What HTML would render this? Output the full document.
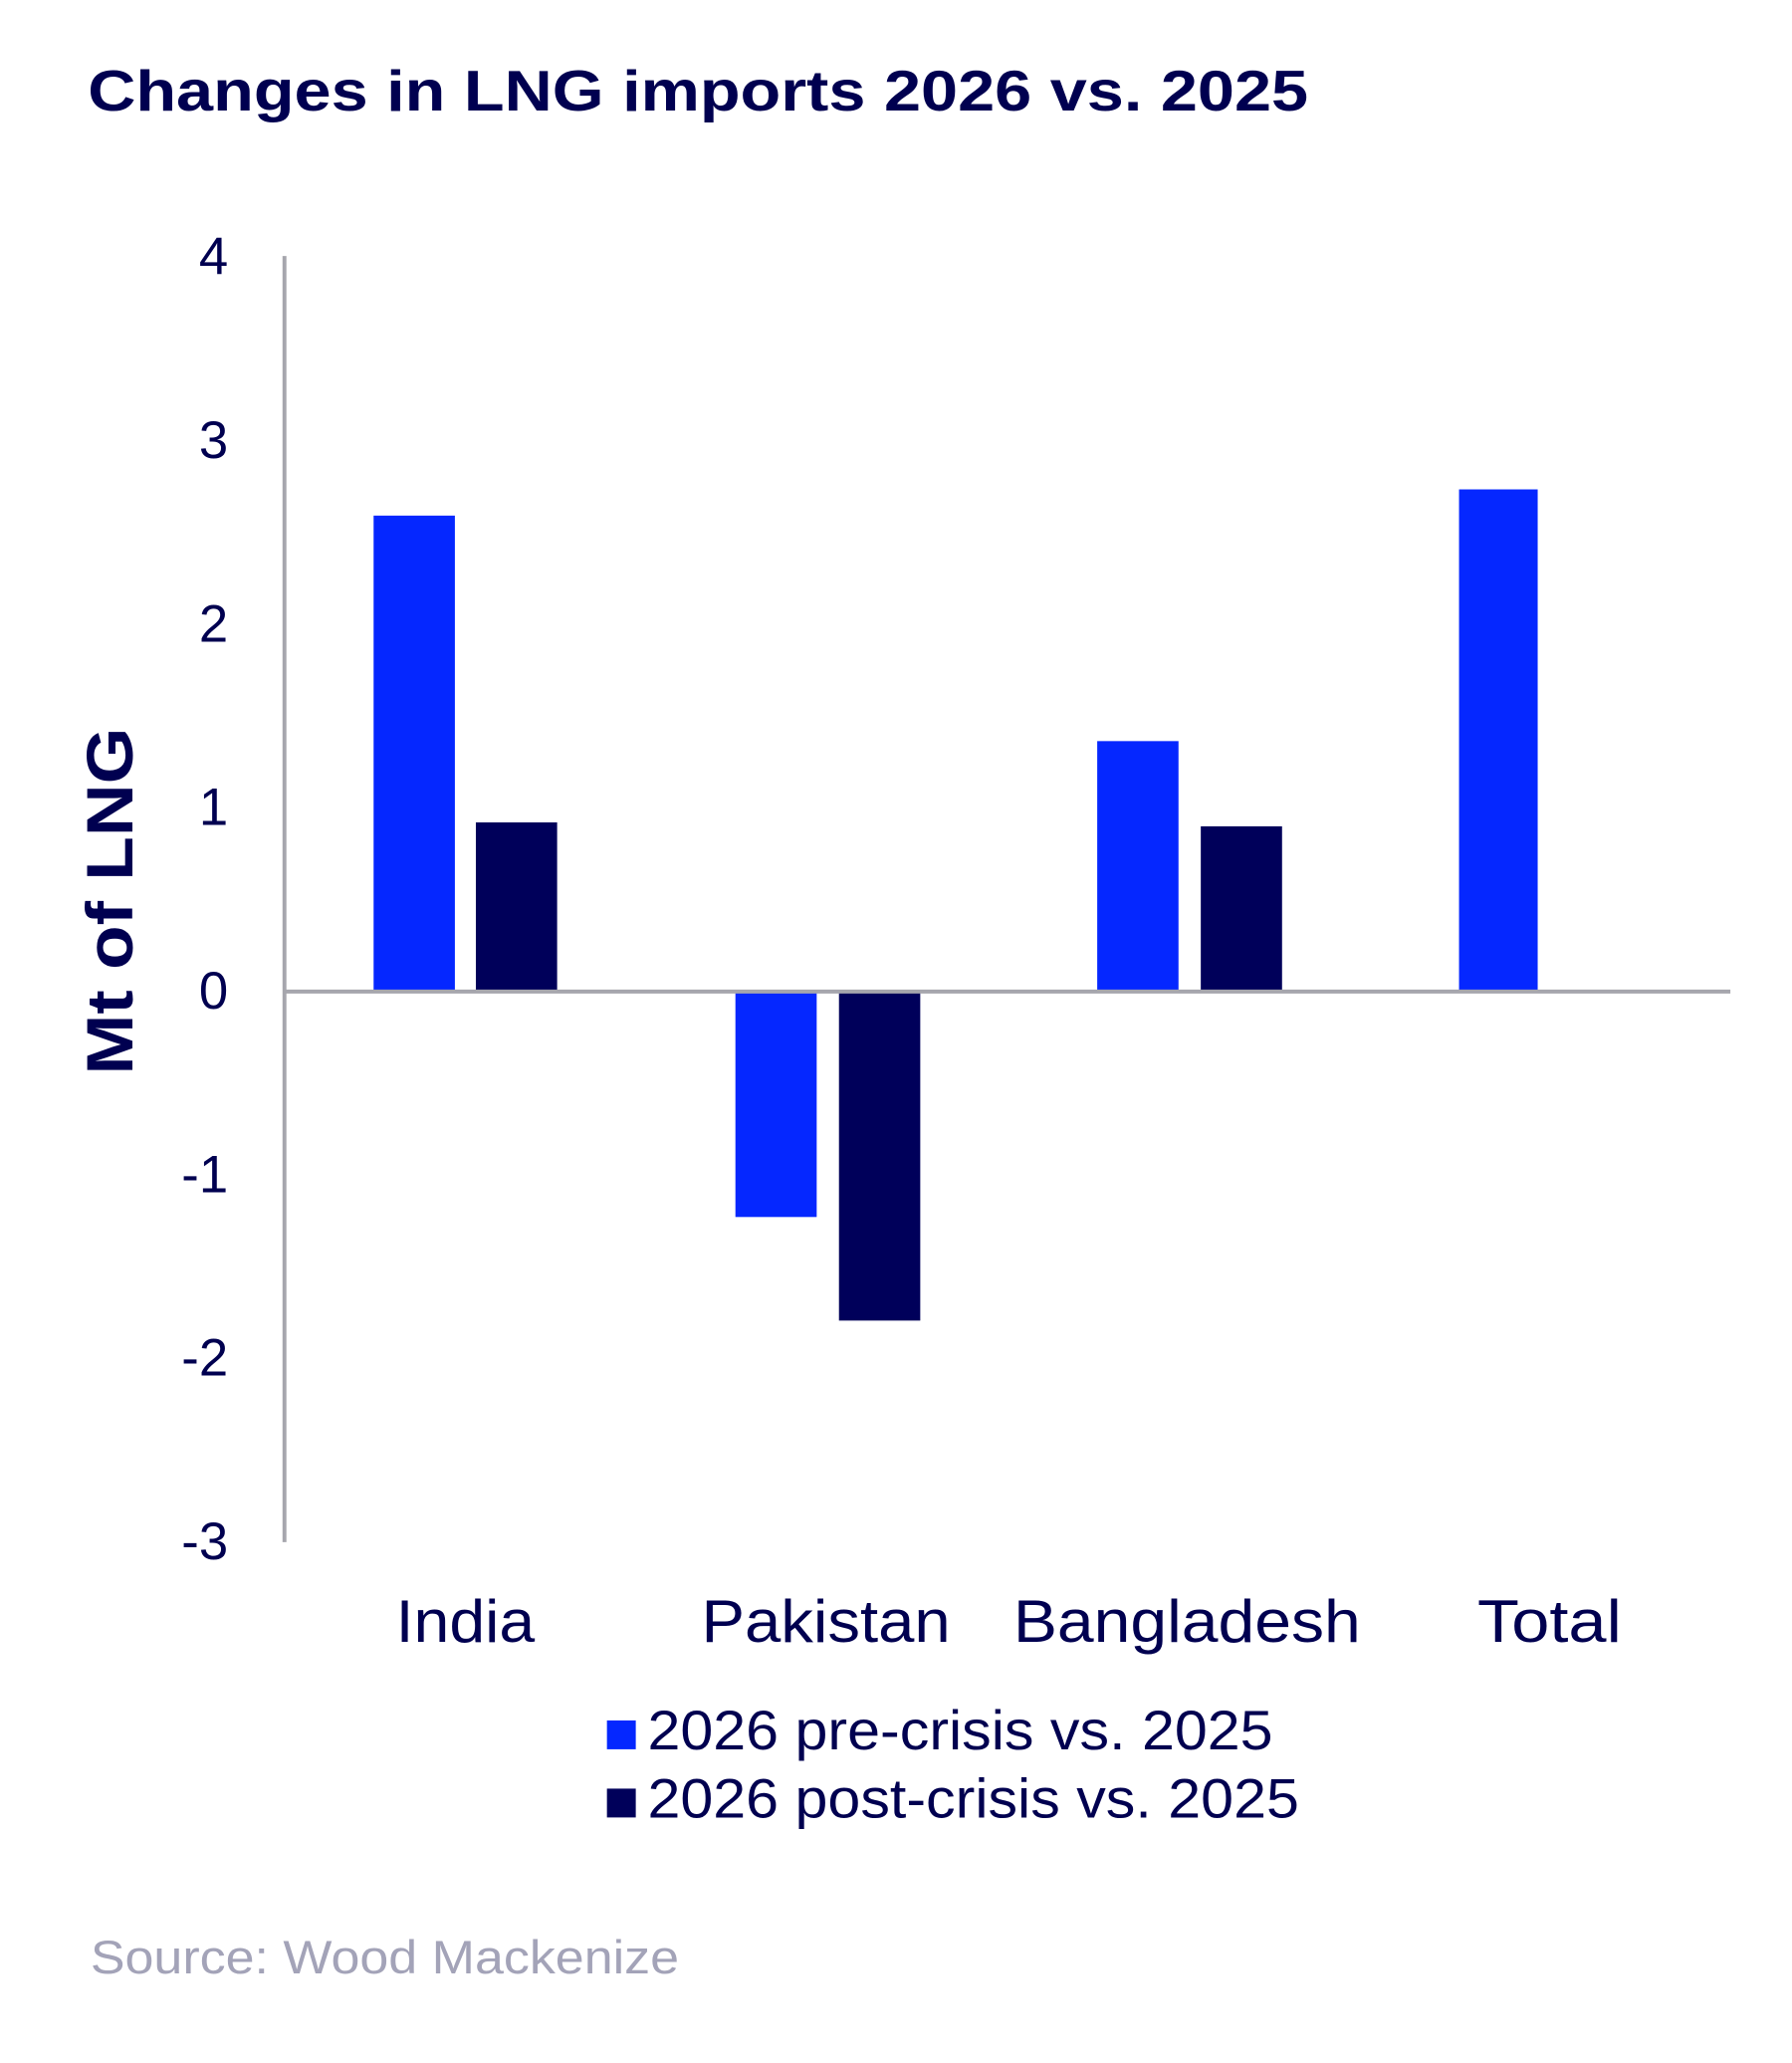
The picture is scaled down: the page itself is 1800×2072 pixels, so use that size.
<!DOCTYPE html>
<html><head><meta charset="utf-8"><style>
html,body{margin:0;padding:0;background:#fff;}
svg{display:block;}
</style></head><body>
<svg width="1800" height="2072" viewBox="0 0 1367 1573" xmlns="http://www.w3.org/2000/svg" font-family="Liberation Sans, Arial, sans-serif">
<rect width="1367" height="1573" fill="#fff"/>
<text x="67" y="84" font-size="44" font-weight="bold" fill="#000050" textLength="931" lengthAdjust="spacingAndGlyphs">Changes in LNG imports 2026 vs. 2025</text>
<g font-size="40" fill="#000050" text-anchor="end">
<text x="174" y="209">4</text>
<text x="174" y="349">3</text>
<text x="174" y="489">2</text>
<text x="174" y="629">1</text>
<text x="174" y="769">0</text>
<text x="174" y="909">-1</text>
<text x="174" y="1049">-2</text>
<text x="174" y="1189">-3</text>
</g>
<text transform="translate(101,687) rotate(-90)" font-size="50" font-weight="bold" fill="#000050" text-anchor="middle" textLength="265" lengthAdjust="spacingAndGlyphs">Mt of LNG</text>
<g fill="#0527ff">
<rect x="285" y="393" width="62" height="362"/>
<rect x="561" y="757" width="62" height="171"/>
<rect x="837" y="565" width="62" height="190"/>
<rect x="1113" y="373" width="60" height="382"/>
</g>
<g fill="#00005a">
<rect x="363" y="627" width="62" height="128"/>
<rect x="640" y="757" width="62" height="250"/>
<rect x="916" y="630" width="62" height="125"/>
</g>
<line x1="217" y1="195" x2="217" y2="1176" stroke="#a6a6ad" stroke-width="3"/>
<line x1="217" y1="756" x2="1320" y2="756" stroke="#a6a6ad" stroke-width="3"/>
<g font-size="46" fill="#000050">
<text x="302" y="1252" textLength="106" lengthAdjust="spacingAndGlyphs">India</text>
<text x="535" y="1252" textLength="190" lengthAdjust="spacingAndGlyphs">Pakistan</text>
<text x="773" y="1252" textLength="265" lengthAdjust="spacingAndGlyphs">Bangladesh</text>
<text x="1127" y="1252" textLength="110" lengthAdjust="spacingAndGlyphs">Total</text>
</g>
<rect x="463" y="1312" width="22" height="22" fill="#0527ff"/>
<rect x="463" y="1364" width="22" height="22" fill="#00005a"/>
<g font-size="42" fill="#000050">
<text x="494" y="1334" textLength="477" lengthAdjust="spacingAndGlyphs">2026 pre-crisis vs. 2025</text>
<text x="494" y="1386" textLength="497" lengthAdjust="spacingAndGlyphs">2026 post-crisis vs. 2025</text>
</g>
<text x="69" y="1505" font-size="36" fill="#a3a3b8" textLength="449" lengthAdjust="spacingAndGlyphs">Source: Wood Mackenize</text>
</svg>
</body></html>
